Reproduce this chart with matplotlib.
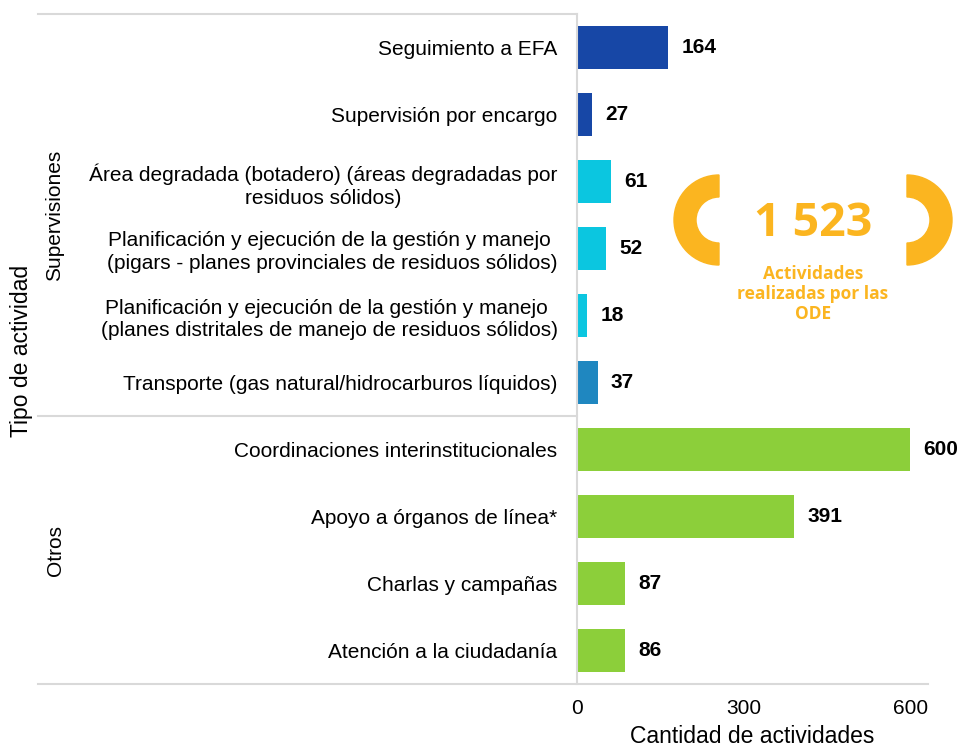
import matplotlib.pyplot as plt
import matplotlib.patches as mpatches
import matplotlib.transforms as mtransforms

# Activities carried out by the ODE, by type
categorias = [
    "Seguimiento a EFA",
    "Supervisión por encargo",
    "Área degradada (botadero) (áreas degradadas por\nresiduos sólidos)",
    "Planificación y ejecución de la gestión y manejo \n(pigars - planes provinciales de residuos sólidos)",
    "Planificación y ejecución de la gestión y manejo \n(planes distritales de manejo de residuos sólidos)",
    "Transporte (gas natural/hidrocarburos líquidos)",
    "Coordinaciones interinstitucionales",
    "Apoyo a órganos de línea*",
    "Charlas y campañas",
    "Atención a la ciudadanía",
]
valores = [164, 27, 61, 52, 18, 37, 600, 391, 87, 86]
colores = ["#1747A6", "#1747A6", "#0BC6E0", "#0BC6E0", "#0BC6E0", "#1F87C0",
           "#8CCF3A", "#8CCF3A", "#8CCF3A", "#8CCF3A"]
grupos = ["Supervisiones", "Otros"]
tamano_grupos = [6, 4]
total_texto = "1 523"
total_sub = "Actividades\nrealizadas por las\nODE"
xticks = [0, 300, 600]

W, H = 962, 751
plt.rcParams['font.family'] = ['Liberation Sans', 'DejaVu Sans']
fig = plt.figure(figsize=(W / 100, H / 100), dpi=100)

ax = fig.add_axes([577 / W, (H - 684) / H, (928 - 577) / W, (684 - 14) / H])
pos = list(range(len(valores)))
ax.barh(pos, valores, height=0.63, color=colores)
ax.set_ylim(len(valores) - 0.5, -0.5)
ax.set_xlim(0, 632)

ax.set_yticks(pos)
ax.set_yticklabels(categorias, fontsize=15, multialignment='center',
                   linespacing=1.25)
ax.tick_params(axis='y', length=0, pad=14)
ax.set_xticks(xticks)
ax.tick_params(axis='x', length=0, pad=11, labelsize=15)
ax.set_xlabel("Cantidad de actividades", fontsize=16.5, labelpad=5)

for s in ["top", "right", "bottom"]:
    ax.spines[s].set_visible(False)
ax.spines["left"].set_color("#D9D9D9")
ax.spines["left"].set_linewidth(1.5)

for y, v in zip(pos, valores):
    ax.text(v + 24, y, str(v), va='center', ha='left', fontsize=15,
            fontweight='bold', color='black')

# group separators and labels on the left
trans = mtransforms.blended_transform_factory(fig.transFigure, ax.transData)
line_kw = dict(color="#D9D9D9", lw=1.5, transform=trans, clip_on=False)
x0, xa, x1 = 38 / W, 577 / W, 928 / W
ax.plot([x0, xa], [-0.5, -0.5], **line_kw)
ax.plot([x0, x1], [len(valores) - 0.5] * 2, **line_kw)
inicio = 0
for g, n in zip(grupos, tamano_grupos):
    if inicio > 0:
        ax.plot([x0, xa], [inicio - 0.5] * 2, **line_kw)
    centro = inicio + (n - 1) / 2
    ax.text(55 / W, centro, g, rotation=90, ha='center', va='center',
            fontsize=15, transform=trans)
    inicio += n

fig.text(22 / W, (H - 351) / H, "Tipo de actividad", rotation=90,
         ha='center', va='center', fontsize=16.5)

# total badge, drawn in pixel space
ov = fig.add_axes([0, 0, 1, 1], facecolor='none')
ov.set_xlim(0, W)
ov.set_ylim(H, 0)
ov.axis('off')
naranja = "#FBB520"
cy = 220
ov.add_patch(mpatches.Wedge((719, cy), 45, 90, 270, width=22, color=naranja))
ov.add_patch(mpatches.Wedge((907, cy), 45, -90, 90, width=22, color=naranja))
ov.text(813, cy + 4, total_texto, ha='center', va='center', fontsize=33.5,
        fontweight='bold', color=naranja, family=['Open Sans', 'DejaVu Sans'])
ov.text(813, 294, total_sub, ha='center', va='center', fontsize=12.5,
        fontweight='bold', color=naranja, linespacing=1.12,
        family=['Open Sans', 'DejaVu Sans'])

fig.savefig("out.png", dpi=100)
